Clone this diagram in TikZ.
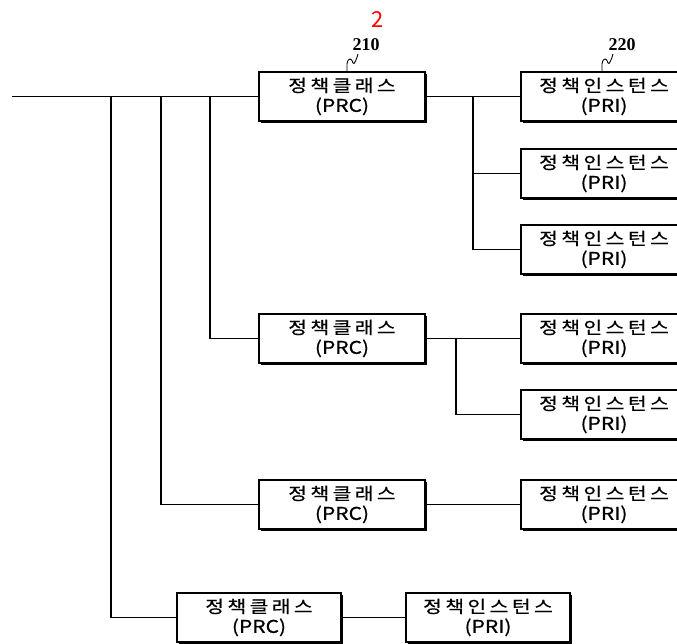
\documentclass[tikz,border=0pt]{standalone}
\usepackage{fontspec}
\setmainfont{Noto Sans CJK KR}
\newfontfamily\kfont[LetterSpace=20,FakeStretch=1.2,FakeBold=0.6]{Noto Sans CJK KR}
\newfontfamily\lfont[FakeStretch=1.2,FakeBold=0.6]{Noto Sans CJK KR}
\newfontfamily\serifb{Liberation Serif}
\usetikzlibrary{shadows}
\newcommand{\bt}[2]{{\kfont\fontsize{17}{20}\selectfont #1}\\{\lfont\fontsize{17.5}{20}\selectfont #2}}
\tikzset{
  box/.style={draw, line width=1.2pt, fill=white, minimum width=166pt, minimum height=49pt,
    inner sep=0pt, align=center, font=\fontsize{16}{20}\selectfont,
    drop shadow={shadow xshift=1.8pt, shadow yshift=-1.8pt, opacity=1, fill=black}},
  conn/.style={line width=1.2pt},
  refnum/.style={font=\serifb\bfseries\fontsize{18}{18}\selectfont, inner sep=0pt},
  squig/.style={line width=0.9pt}
}
\begin{document}
\begin{tikzpicture}[x=1pt,y=-1pt]
\clip (0,0) rectangle (677,644);
\fill[white] (0,0) rectangle (677,644);
% boxes
\node[box] (prc1) at (342,96.5) {\bt{정책클래스}{(PRC)}};
\node[box] (pri1) at (604,96.5) {\bt{정책인스턴스}{(PRI)}};
\node[box] (pri2) at (604,173.5) {\bt{정책인스턴스}{(PRI)}};
\node[box] (pri3) at (604,249.5) {\bt{정책인스턴스}{(PRI)}};
\node[box] (prc2) at (342,338.5) {\bt{정책클래스}{(PRC)}};
\node[box] (pri4) at (604,338.5) {\bt{정책인스턴스}{(PRI)}};
\node[box] (pri5) at (604,414.5) {\bt{정책인스턴스}{(PRI)}};
\node[box] (prc3) at (342,504.5) {\bt{정책클래스}{(PRC)}};
\node[box] (pri6) at (604,504.5) {\bt{정책인스턴스}{(PRI)}};
\node[box, minimum width=164pt] (prc4) at (259,617.5) {\bt{정책클래스}{(PRC)}};
\node[box, minimum width=164pt] (pri7) at (488,617.5) {\bt{정책인스턴스}{(PRI)}};
% coordinates
\coordinate (start) at (12,96.5);
\coordinate (t1) at (111,96.5);
\coordinate (t2) at (161,96.5);
\coordinate (t3) at (210,96.5);
\coordinate (b1) at (473,96.5);
\coordinate (b2) at (456,338.5);
% connectors
\draw[conn] (start) -- (prc1.west);
\draw[conn] (t1) |- (prc4.west);
\draw[conn] (t2) |- (prc3.west);
\draw[conn] (t3) |- (prc2.west);
\draw[conn] (prc1.east) -- (pri1.west);
\draw[conn] (b1) |- (pri2.west);
\draw[conn] (b1) |- (pri3.west);
\draw[conn] (prc2.east) -- (pri4.west);
\draw[conn] (b2) |- (pri5.west);
\draw[conn] (prc3.east) -- (pri6.west);
\draw[conn] (prc4.east) -- (pri7.west);
% labels
\node[text=red, font=\fontsize{22}{22}\selectfont, inner sep=0pt] (fig) at (378,20) {2};
\node[refnum] (l210) at (366,45) {210};
\node[refnum] (l220) at (622,45) {220};
\coordinate (s1) at (347,72);
\coordinate (s2) at (602,72);
\draw[squig] (s1) -- ++(0,-8) .. controls +(1,-7) and +(-1,-5) .. ++(6,-1) .. controls +(1,3) and +(-1,4) .. ++(5,-9);
\draw[squig] (s2) -- ++(0,-8) .. controls +(1,-7) and +(-1,-5) .. ++(6,-1) .. controls +(1,3) and +(-1,4) .. ++(5,-9);
\end{tikzpicture}
\end{document}
